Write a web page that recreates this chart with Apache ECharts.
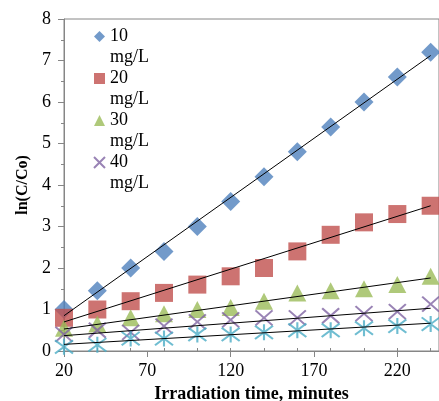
<!DOCTYPE html>
<html>
<head>
<meta charset="utf-8">
<script src="https://cdn.jsdelivr.net/npm/echarts@6/dist/echarts.min.js"></script>
<style>html,body{margin:0;padding:0;background:#fff;}#c{width:439px;height:401px;}</style>
</head>
<body>
<div id="c"></div>
<script>
// ---- data ----
const times = [20, 40, 60, 80, 100, 120, 140, 160, 180, 200, 220, 240];
const seriesNames = ['10 mg/L', '20 mg/L', '30 mg/L', '40 mg/L', '50 mg/L'];
const c10 = [1.0, 1.45, 2.0, 2.4, 3.0, 3.6, 4.2, 4.8, 5.4, 6.0, 6.6, 7.2];
const c20 = [0.8, 1.0, 1.2, 1.4, 1.6, 1.8, 2.0, 2.4, 2.8, 3.1, 3.3, 3.5];
const c30 = [0.55, 0.65, 0.8, 0.9, 1.0, 1.05, 1.2, 1.4, 1.45, 1.5, 1.6, 1.8];
const c40 = [0.4, 0.5, 0.45, 0.6, 0.7, 0.75, 0.8, 0.8, 0.85, 0.9, 0.95, 1.13];
const c50 = [0.1, 0.15, 0.3, 0.3, 0.4, 0.4, 0.45, 0.5, 0.5, 0.55, 0.6, 0.65];
// linear trend lines (value at first and last time)
const trendStart = [0.85, 0.7, 0.53, 0.37, 0.16];
const trendEnd = [7.12, 3.5, 1.76, 1.03, 0.67];
const xTicks = [20, 70, 120, 170, 220];

const allValues = [c10, c20, c30, c40, c50];
const colors = ['#4F81BD', '#C0504D', '#9BBB59', '#8064A2', '#4BACC6'];
const symbols = ['diamond', 'rect', 'triangle', 'path://M0,0L10,10M10,0L0,10', 'path://M0,0L10,10M10,0L0,10M5,-1L5,11'];
const sizes = [[19, 19], [18, 18], [18, 17], [17, 15], [18, 16]];

const serif = 'Liberation Serif, Times New Roman, serif';
const axisGray = '#868686';

const series = [];
allValues.forEach((vals, i) => {
  const isPath = symbols[i].indexOf('path://') === 0;
  series.push({
    name: seriesNames[i],
    type: 'scatter',
    symbol: symbols[i],
    symbolSize: sizes[i],
    data: times.map((t, k) => [t, vals[k]]),
    itemStyle: isPath
      ? { color: colors[i], borderColor: colors[i], borderWidth: 2 }
      : { color: colors[i] },
    z: 2 + i * 0.01
  });
});
allValues.forEach((vals, i) => {
  series.push({
    name: seriesNames[i] + ' trend',
    type: 'line',
    data: [[times[0], trendStart[i]], [times[times.length - 1], trendEnd[i]]],
    showSymbol: false,
    symbol: 'none',
    lineStyle: { color: '#000', width: 1 },
    z: 5
  });
});

const legendNames = seriesNames.slice(0, 4);
const chart = echarts.init(document.getElementById('c'), null, { renderer: 'canvas' });
chart.setOption({
  animation: false,
  backgroundColor: '#fff',
  grid: {
    left: 64, top: 19, right: 0, bottom: 50, containLabel: false, outerBoundsMode: 'none',
    show: true, borderColor: axisGray, borderWidth: 1
  },
  legend: [
    {
      data: legendNames, orient: 'vertical', left: 88, top: 21,
      itemWidth: 11, itemHeight: 11, itemGap: 21, selectedMode: false,
      formatter: n => n.split(' ')[0],
      textStyle: { fontFamily: serif, fontSize: 18, color: '#000', lineHeight: 21 }
    },
    {
      data: legendNames, orient: 'vertical', left: 88, top: 42,
      itemWidth: 11, itemHeight: 11, itemGap: 21, selectedMode: false,
      itemStyle: { opacity: 0 },
      formatter: n => n.split(' ')[1],
      textStyle: { fontFamily: serif, fontSize: 18, color: '#000', lineHeight: 21 }
    }
  ],
  xAxis: [
    {
      type: 'value', position: 'bottom', min: 20, max: 245, interval: 50,
      name: 'Irradiation time, minutes', nameLocation: 'middle', nameGap: 30,
      nameTextStyle: { fontFamily: serif, fontSize: 18, fontWeight: 'bold', color: '#000' },
      axisLine: { show: true, lineStyle: { color: axisGray, width: 1 } },
      axisTick: { show: true, inside: false, length: 6, lineStyle: { color: axisGray } },
      axisLabel: {
        fontFamily: serif, fontSize: 18, color: '#000', margin: 11, showMaxLabel: false,
        formatter: v => (xTicks.indexOf(v) >= 0 ? String(v) : '')
      },
      splitLine: { show: false }
    },
    {
      type: 'value', position: 'bottom', min: 20, max: 245, interval: 20,
      axisLine: { show: false },
      axisTick: { show: true, inside: true, length: 3, lineStyle: { color: axisGray } },
      axisLabel: { show: false },
      splitLine: { show: false }
    }
  ],
  yAxis: {
    type: 'value', min: 0, max: 8, interval: 1,
    name: 'ln(C/Co)', nameLocation: 'middle', nameGap: 29,
    nameTextStyle: { fontFamily: serif, fontSize: 16, fontWeight: 'bold', color: '#000' },
    axisLine: { show: true, lineStyle: { color: axisGray, width: 1 } },
    axisTick: { show: true, inside: false, length: 6, lineStyle: { color: axisGray } },
    minorTick: { show: true, splitNumber: 2, length: 3, lineStyle: { color: axisGray } },
    axisLabel: { fontFamily: serif, fontSize: 18, color: '#000', margin: 13 },
    splitLine: { show: false }
  },
  series: series
});
</script>
</body>
</html>
